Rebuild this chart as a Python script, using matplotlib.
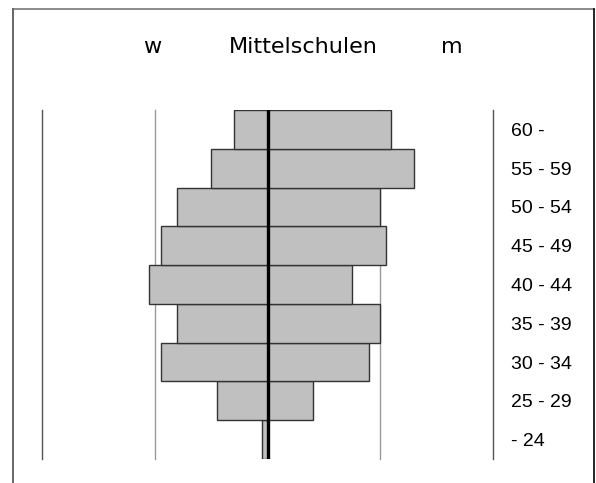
import matplotlib.pyplot as plt
from matplotlib.lines import Line2D

# age groups, bottom to top
groups = ['- 24', '25 - 29', '30 - 34', '35 - 39', '40 - 44',
          '45 - 49', '50 - 54', '55 - 59', '60 -']
women = [0.5, 4.5, 9.5, 8.0, 10.5, 9.5, 8.0, 5.0, 3.0]
men = [0.0, 4.0, 9.0, 10.0, 7.5, 10.5, 10.0, 13.0, 11.0]
grid_x = [-20, -10, 0, 10, 20]

W, H = 596, 483
fig = plt.figure(figsize=(W / 100, H / 100), dpi=100)

# axes placed in pixels: x 42..493, y 110..459
ax = fig.add_axes([42.3 / W, 1 - 459 / H, (492.7 - 42.3) / W, (459 - 110) / H])

ypos = list(range(len(groups)))
ax.barh(ypos, [-v for v in women], height=1, color='#c0c0c0',
        edgecolor='#333333', linewidth=1, zorder=2)
ax.barh(ypos, men, height=1, color='#c0c0c0',
        edgecolor='#333333', linewidth=1, zorder=2)

for gx in grid_x:
    if gx == 0:
        continue
    col = '#555555' if abs(gx) == 20 else '#9a9a9a'
    ax.axvline(gx, color=col, linewidth=1, zorder=1, clip_on=False)
ax.axvline(0, color='black', linewidth=2.4, zorder=3)

ax.set_xlim(-20, 20)
ax.set_ylim(-0.5, len(groups) - 0.5)
ax.set_xticks([])
ax.yaxis.tick_right()
ax.set_yticks(ypos)
ax.set_yticklabels(groups, fontsize=14, family=['Liberation Sans', 'DejaVu Sans'])
ax.tick_params(axis='y', length=0, pad=13)
for s in ax.spines.values():
    s.set_visible(False)

# header texts
tfont = ['DejaVu Sans']
fig.text(152 / W, 1 - 47 / H, 'w', ha='center', va='center', fontsize=16, family=tfont)
fig.text(303 / W, 1 - 47 / H, 'Mittelschulen', ha='center', va='center', fontsize=16, family=tfont)
fig.text(452 / W, 1 - 47 / H, 'm', ha='center', va='center', fontsize=16, family=tfont)

# outer frame (runs off the bottom)
fx0, fx1, fy0 = 12.7 / W, 594.3 / W, 1 - 8.5 / H
fig.add_artist(Line2D([fx0, fx1], [fy0, fy0], color='#777777', linewidth=1.2))
fig.add_artist(Line2D([fx0, fx0], [fy0, 0], color='#666666', linewidth=1.4))
fig.add_artist(Line2D([fx1, fx1], [fy0, 0], color='black', linewidth=1.2))

fig.savefig('out.png', dpi=100)
